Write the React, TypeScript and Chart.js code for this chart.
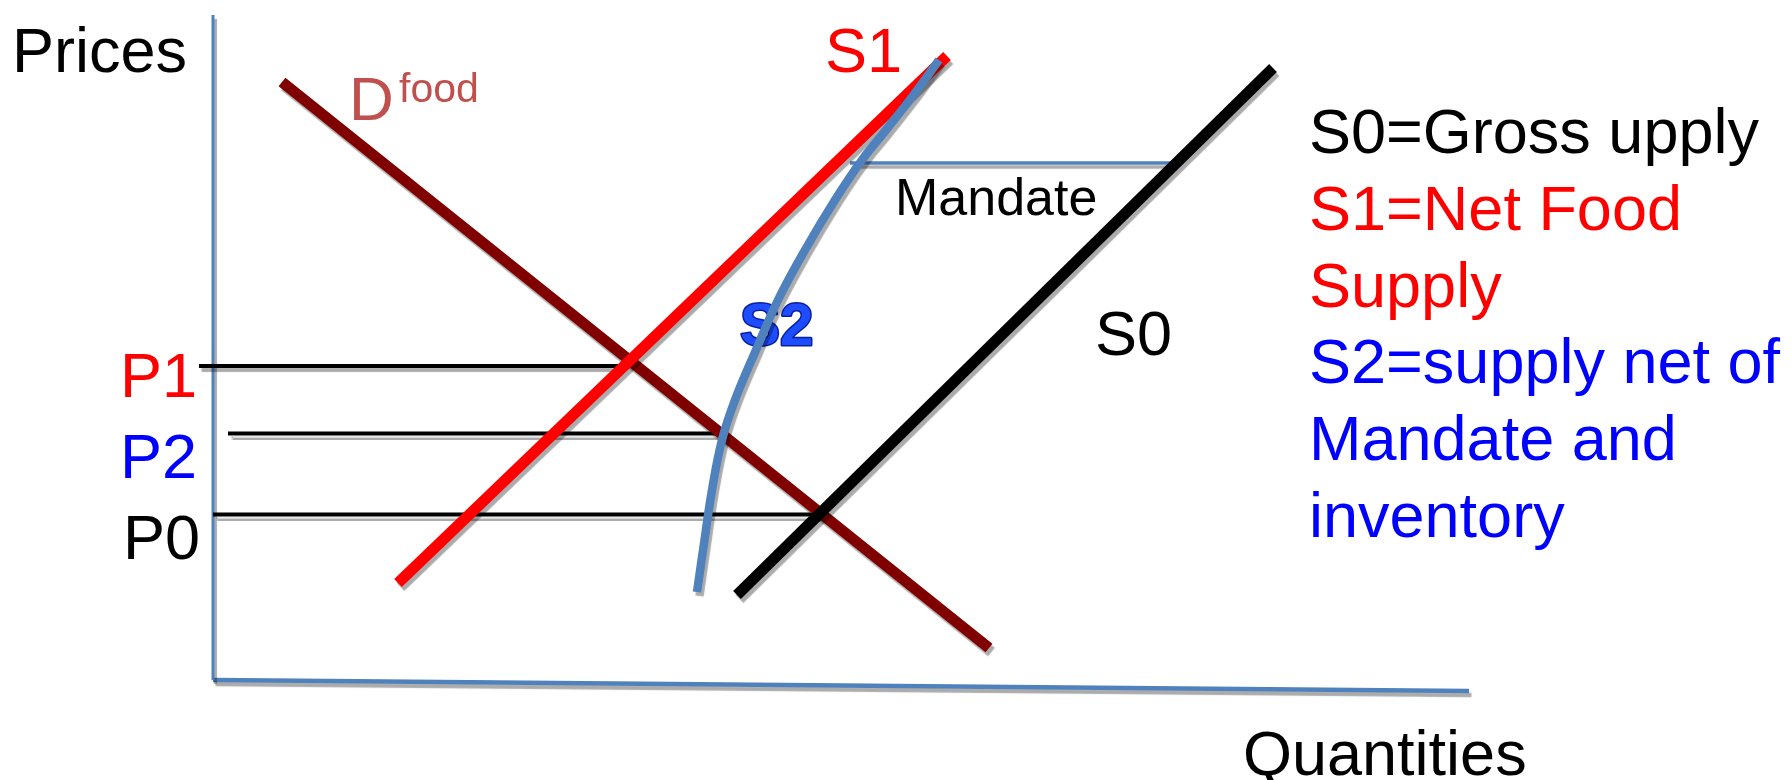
import React, { useEffect, useRef } from "react";
import { Chart, registerables } from "chart.js";

Chart.register(...registerables);

const FONT = '"Liberation Sans", Arial, Helvetica, sans-serif';

// ---- Data (quantity on x, price on y) ----
const demandFood = [
  { x: 6.9, y: 59.8 },
  { x: 77.6, y: 3.2 },
];
const supplyS1 = [
  { x: 18.5, y: 9.7 },
  { x: 73.4, y: 62.4 },
];
const supplyS0 = [
  { x: 52.4, y: 8.5 },
  { x: 106.0, y: 61.2 },
];
const supplyS2 = [
  { x: 48.4, y: 8.8 },
  { x: 49.15, y: 14.0 },
  { x: 49.9, y: 19.0 },
  { x: 50.9, y: 24.0 },
  { x: 52.2, y: 28.0 },
  { x: 54.3, y: 33.0 },
  { x: 56.5, y: 38.0 },
  { x: 59.2, y: 43.0 },
  { x: 62.2, y: 48.0 },
  { x: 64.9, y: 52.0 },
  { x: 67.3, y: 55.0 },
  { x: 69.9, y: 58.3 },
  { x: 72.6, y: 62.0 },
];

const priceNames = ["P1", "P2", "P0"];
const priceColors = ["#ff0000", "#0000ff", "#000000"];
const priceLevels = [31.4, 24.65, 16.55];
const priceLineStart = [-1.4, 1.5, 0.0];
const priceLineEnd = [41.0, 50.7, 61.1];

const mandateLevel = 51.7;
const mandateFrom = 63.7;
const mandateTo = 96.2;

const axisYTop = 66.5;
const axisXEnd = { x: 125.6, y: -1.1 };

const legendLines = [
  { text: "S0=Gross upply", color: "#000000" },
  { text: "S1=Net Food", color: "#ff0000" },
  { text: "Supply", color: "#ff0000" },
  { text: "S2=supply net of", color: "#0000ff" },
  { text: "Mandate and", color: "#0000ff" },
  { text: "inventory", color: "#0000ff" },
];

// ---- Layout of labels (data units, left / baseline) ----
const LABELS = [
  { text: "Prices", x: -20.1, y: 60.8, size: 63, color: "#000000" },
  { text: "Quantities", x: 103.0, y: -9.5, size: 63, color: "#000000" },
  { text: "S1", x: 61.2, y: 60.8, size: 63, color: "#ff0000" },
  { text: "D", x: 13.6, y: 56.0, size: 62, color: "#c0504d" },
  { text: "food", x: 18.6, y: 57.85, size: 41, color: "#c0504d" },
  { text: "Mandate", x: 68.2, y: 46.5, size: 52, color: "#000000" },
  { text: "S0", x: 88.2, y: 32.5, size: 63, color: "#000000" },
];
const S2_LABEL = { text: "S2", x: 52.7, y: 33.5, size: 60 };
const PRICE_LABEL_X = [-9.3, -9.3, -9.0];
const PRICE_LABEL_DY = [-3.1, -4.4, -4.4];
const LEGEND_X = 109.6;
const LEGEND_TOP = 52.67;
const LEGEND_STEP = 7.67;

const X_MIN = -21.3;
const X_MAX = 157.9;
const Y_MIN = -10;
const Y_MAX = 68;

const shadowPlugin = {
  id: "lineShadow",
  beforeDatasetDraw(chart: any) {
    const ctx = chart.ctx;
    ctx.save();
    ctx.shadowColor = "rgba(0,0,0,0.33)";
    ctx.shadowOffsetX = 2.5;
    ctx.shadowOffsetY = 4;
    ctx.shadowBlur = 1;
  },
  afterDatasetDraw(chart: any) {
    chart.ctx.restore();
  },
};

const textPlugin = {
  id: "textLabels",
  beforeDatasetsDraw(chart: any) {
    const ctx = chart.ctx;
    const xs = chart.scales.x;
    const ys = chart.scales.y;
    ctx.save();
    ctx.textBaseline = "alphabetic";
    ctx.textAlign = "left";
    ctx.font = `bold ${S2_LABEL.size}px ${FONT}`;
    const px = xs.getPixelForValue(S2_LABEL.x);
    const py = ys.getPixelForValue(S2_LABEL.y);
    ctx.lineJoin = "round";
    ctx.lineWidth = 3;
    ctx.strokeStyle = "#0a1f9c";
    ctx.strokeText(S2_LABEL.text, px, py);
    ctx.fillStyle = "#1e4dff";
    ctx.fillText(S2_LABEL.text, px, py);
    ctx.restore();
  },
  afterDatasetsDraw(chart: any) {
    const ctx = chart.ctx;
    const xs = chart.scales.x;
    const ys = chart.scales.y;
    ctx.save();
    ctx.textBaseline = "alphabetic";
    ctx.textAlign = "left";
    const put = (text: string, x: number, y: number, size: number, color: string) => {
      ctx.font = `${size}px ${FONT}`;
      ctx.fillStyle = color;
      ctx.fillText(text, xs.getPixelForValue(x), ys.getPixelForValue(y));
    };
    LABELS.forEach((l) => put(l.text, l.x, l.y, l.size, l.color));
    priceNames.forEach((n, i) =>
      put(n, PRICE_LABEL_X[i], priceLevels[i] + PRICE_LABEL_DY[i], 63, priceColors[i])
    );
    legendLines.forEach((l, i) =>
      put(l.text, LEGEND_X, LEGEND_TOP - i * LEGEND_STEP, 63, l.color)
    );
    ctx.restore();
  },
};

export default function App() {
  const ref = useRef<HTMLCanvasElement | null>(null);

  useEffect(() => {
    if (!ref.current) return;
    const line = (data: any[], color: string, width: number, extra: any = {}) => ({
      data,
      showLine: true,
      borderColor: color,
      backgroundColor: color,
      borderWidth: width,
      pointRadius: 0,
      pointHoverRadius: 0,
      borderCapStyle: "butt",
      fill: false,
      clip: false,
      ...extra,
    });

    const priceSets = priceLevels.map((p, i) =>
      line(
        [
          { x: priceLineStart[i], y: p },
          { x: priceLineEnd[i], y: p },
        ],
        "#000000",
        4
      )
    );

    const chart = new Chart(ref.current, {
      type: "scatter",
      data: {
        datasets: [
          line(supplyS2, "#4f81bd", 8.5, { tension: 0.4 }),
          line(supplyS1, "#ff0000", 11),
          line(supplyS0, "#000000", 11),
          line(demandFood, "#800000", 11),
          ...priceSets,
          line(
            [
              { x: mandateFrom, y: mandateLevel },
              { x: mandateTo, y: mandateLevel },
            ],
            "#4f81bd",
            3.5
          ),
          line(
            [
              { x: 0, y: 0 },
              { x: 0, y: axisYTop },
            ],
            "#4f81bd",
            3
          ),
          line([{ x: 0, y: 0 }, axisXEnd], "#4f81bd", 4.5),
        ] as any,
      },
      options: {
        animation: false,
        responsive: false,
        maintainAspectRatio: false,
        layout: { padding: 0 },
        events: [],
        plugins: {
          legend: { display: false },
          tooltip: { enabled: false },
          title: { display: false },
        },
        scales: {
          x: { type: "linear", min: X_MIN, max: X_MAX, display: false },
          y: { type: "linear", min: Y_MIN, max: Y_MAX, display: false },
        },
      } as any,
      plugins: [shadowPlugin, textPlugin],
    });
    return () => chart.destroy();
  }, []);

  return (
    <div
      style={{
        position: "fixed",
        left: 0,
        top: 0,
        width: 1792,
        height: 780,
        background: "#ffffff",
        overflow: "hidden",
      }}
    >
      <canvas ref={ref} width={1792} height={780} style={{ width: 1792, height: 780, display: "block" }} />
    </div>
  );
}
